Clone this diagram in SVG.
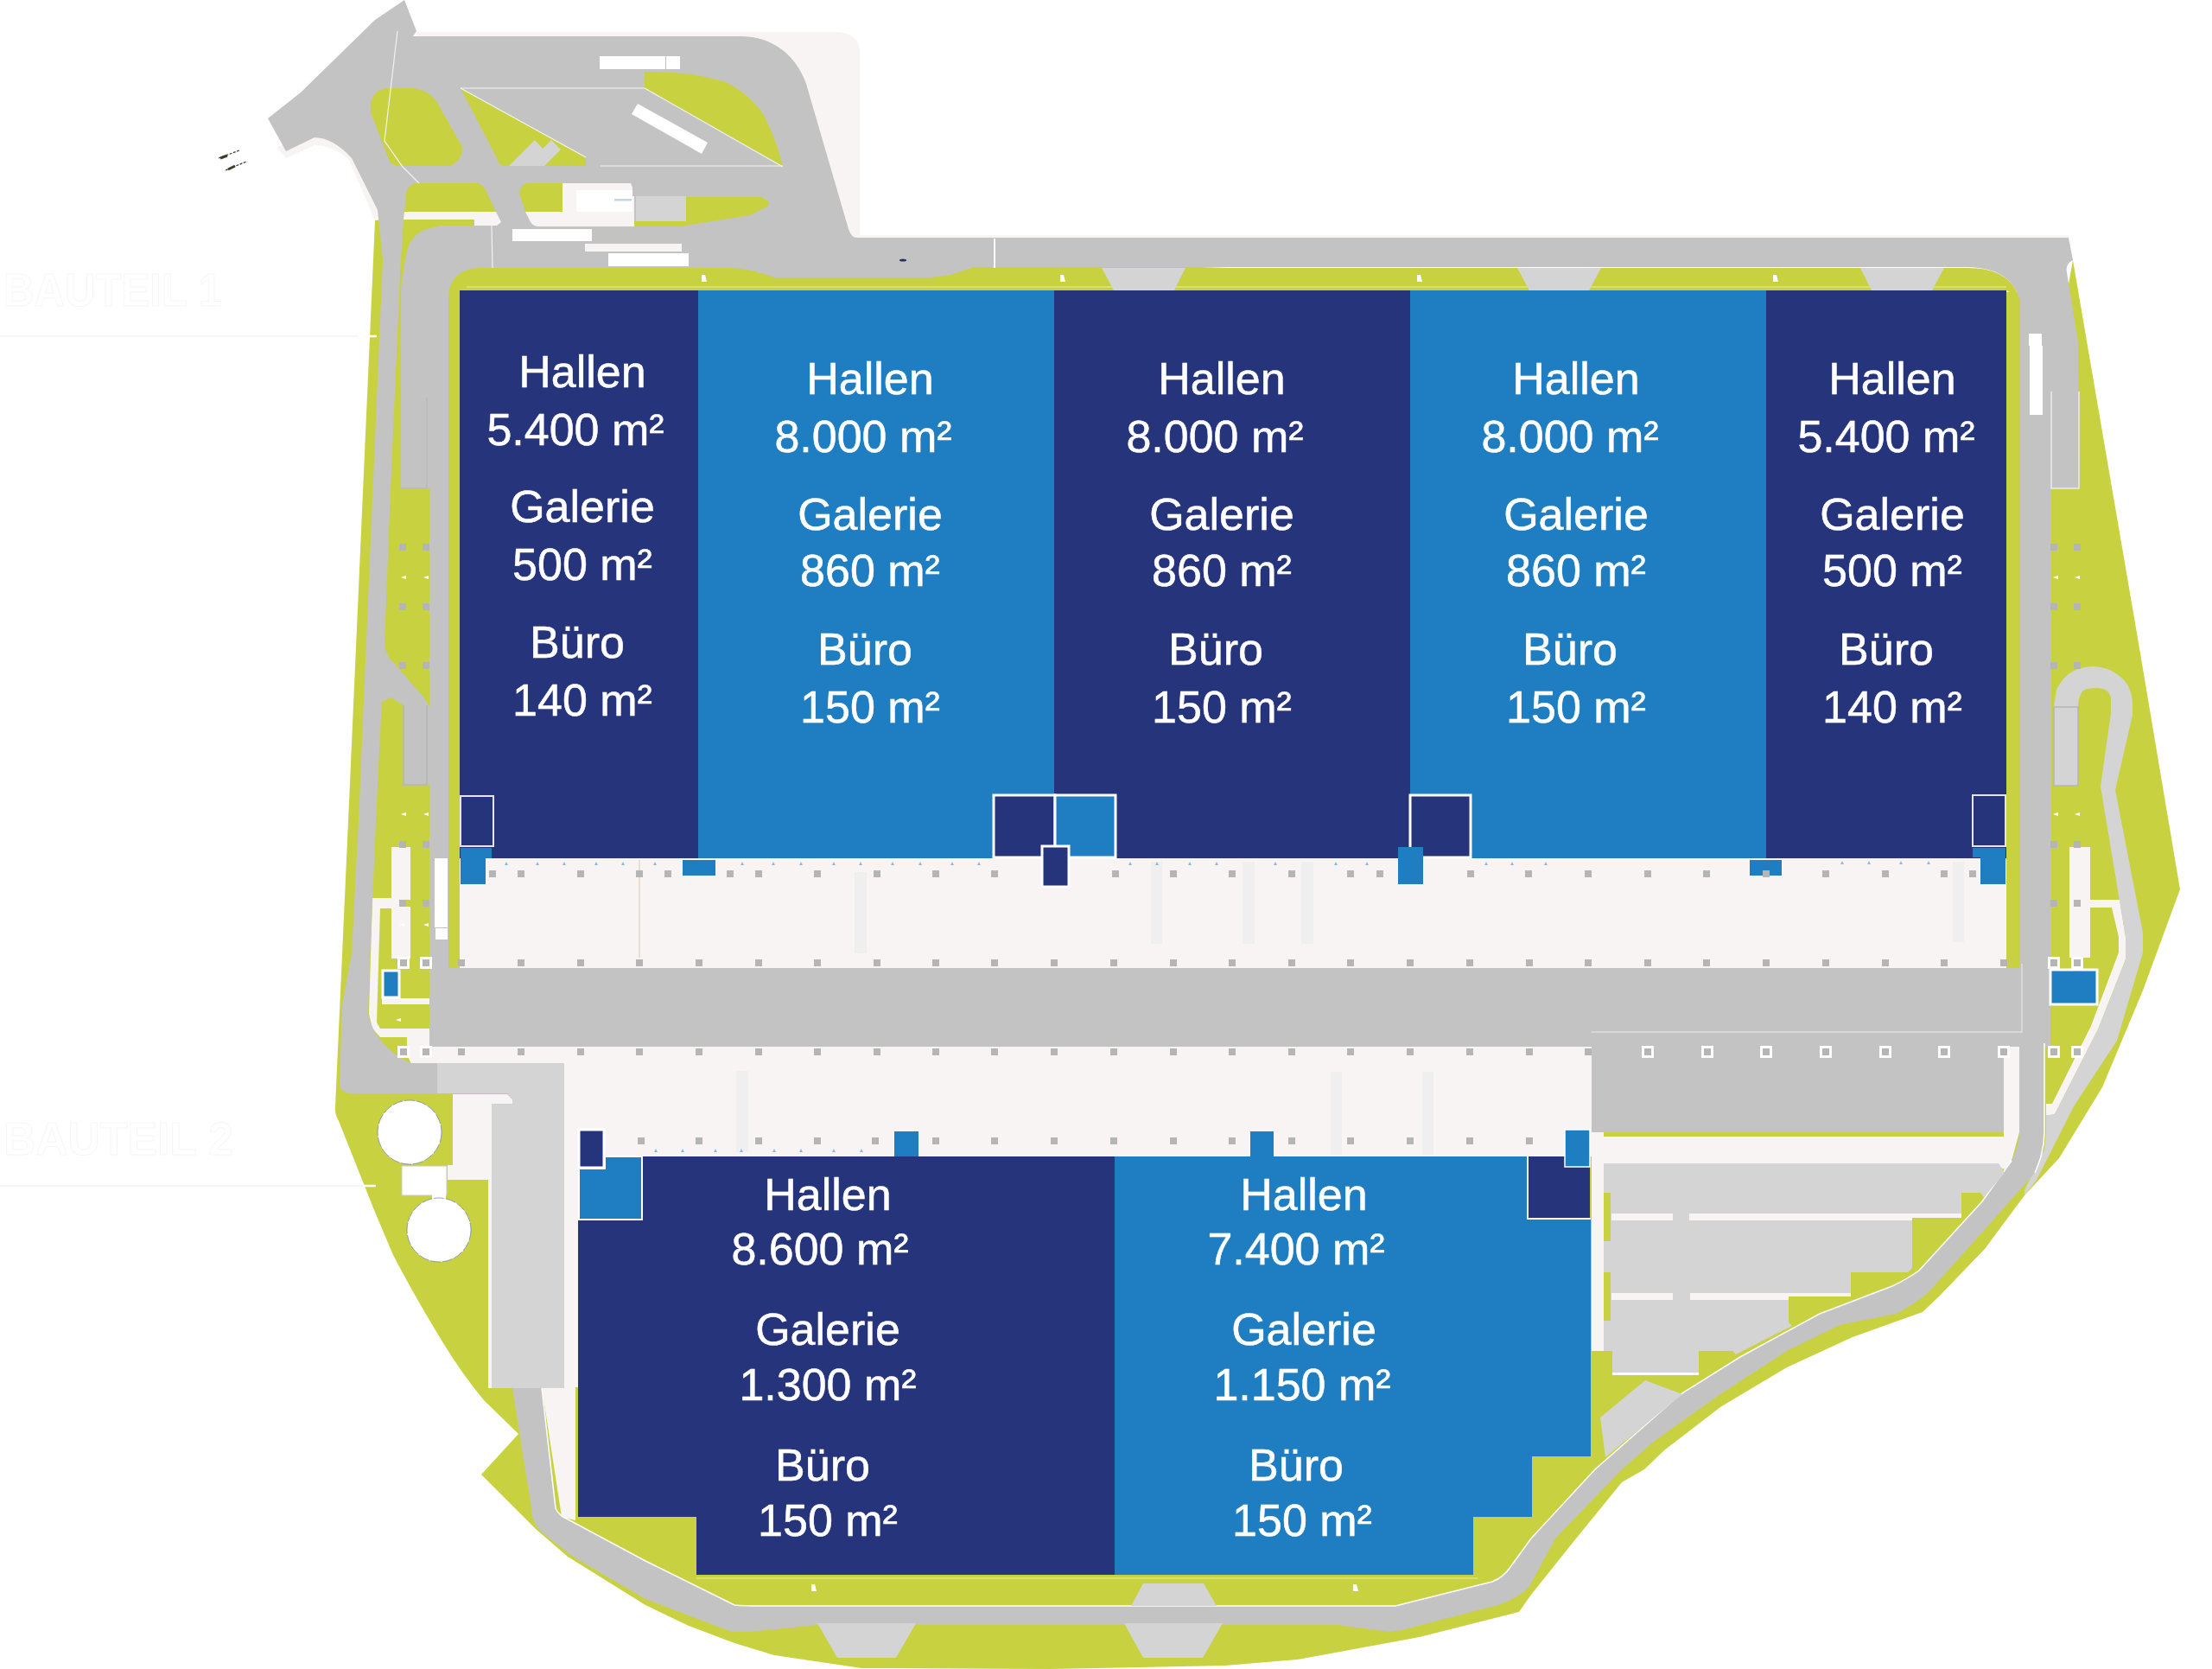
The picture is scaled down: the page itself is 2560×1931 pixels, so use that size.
<svg xmlns="http://www.w3.org/2000/svg" xmlns:xlink="http://www.w3.org/1999/xlink" width="2560" height="1931" viewBox="0 0 2560 1931">
<style>
.g{fill:#c8d240}.r{fill:#c3c3c3}.l{fill:#d4d4d4}.p{fill:#f8f4f3}.w{fill:#fff}
.d{fill:#26347c}.b{fill:#1f7ec1}
.bx{stroke:#fff;stroke-width:3}
.bs{stroke:#e4e4ea;stroke-width:2}
.st{fill:#efefef}
.t{font-family:"Liberation Sans",Arial,sans-serif;font-size:52px;fill:#fff;stroke:#fff;stroke-width:.5;text-anchor:middle}
.h{font-family:"Liberation Sans",Arial,sans-serif;font-size:54px;font-weight:bold;fill:#fff;stroke:#f6f6f6;stroke-width:1}
</style>
<defs>
<rect id="s" x="-4" y="-4" width="8" height="8" fill="#b5b5b5"/>
<g id="wb"><rect x="-7" y="-7" width="14" height="14" fill="#fff"/><rect x="-4" y="-4" width="8" height="8" fill="#b5b5b5"/></g>
<path id="a" d="M0,-2L2,2H-2Z" fill="#8cbbe2"/>
<path id="wa" d="M-3,0L3,-2V2Z" fill="#fff"/>
<path id="wt" d="M-2,-4H2L4,4H-2Z" fill="#fff"/>
</defs>
<rect width="2560" height="1931" fill="#fff"/>
<g id="labels-bauteil">
<text class="h" x="4" y="354" textLength="253" lengthAdjust="spacingAndGlyphs">BAUTEIL 1</text>
<text class="h" x="4" y="1336" textLength="266" lengthAdjust="spacingAndGlyphs">BAUTEIL 2</text>
<path d="M0,389H430M0,1372H435" stroke="#f3f3f3" stroke-width="1.5" fill="none"/>
</g>
<g id="site-green">
<path class="g" d="M434,255L403,950L388,1280Q387,1288 392,1297L433,1400L455,1452Q480,1500 513,1554Q535,1590 560,1620L600,1659L557,1706L620,1769L657,1801L747,1857L797,1881L850,1901L896,1915L997,1930L1215,1931L1418,1927L1502,1920L1643,1894L1758,1865L1772,1845L1824,1780L1877,1715L1903,1700L1926,1678L1991,1628L2068,1582L2144,1547L2225,1518L2244,1500L2297,1445L2343,1383L2383,1340L2433,1258L2480,1146L2523,1029L2476,750L2399,301L2392,340L1100,300L532,300L470,250Z"/>
</g>
<g id="pink-areas">
<path class="p" d="M483,37H971Q995,40 995,60V272H2394V278H970L900,100L840,44H483Z"/>
<path class="p" d="M331,183L364,168Q385,168 404,185L429,243L432,253H445L445,200L380,150L320,170Z"/>
<rect class="p" x="532" y="993" width="1790" height="127"/>
<path class="p" d="M497,1190H653V1211H1842V1338H669V1605L666,1605V1759L650,1755L627,1605L653,1605V1231H476L471,1220V1200H440L431,1190L427,1173L431,1039H464V1051H440L436,1183L440,1190Z"/>
<path class="p" d="M524,1266H587L593,1272V1277H569V1606H565V1365H518V1348H524Z"/>
<path class="p" d="M2319,1207H2337V1310L2328,1343L2320,1353L2313,1350V1346H1842V1315H2319Z"/>
<rect class="p" x="1842" y="1310" width="14" height="253"/>
<rect class="p" x="453" y="980" width="22" height="61"/>
<rect class="p" x="453" y="1049" width="22" height="60"/>
<rect class="p" x="442" y="1155" width="55" height="7"/>
<rect class="p" x="2395" y="980" width="24" height="128"/>
<path class="p" d="M2418,1041H2453L2460,1084V1110L2428,1191L2378,1289L2373,1290H2368V1277H2375L2420,1187L2452,1102V1084L2444,1050H2418Z"/>
</g>
<g id="roads">
<path class="l" d="M2377,818L2380,798Q2388,782 2400,776Q2412,771 2423,771Q2440,772 2450,780Q2468,792 2468,815V827L2448,914L2480,1079V1102L2450,1204L2400,1280L2357,1365L2343,1383L2343,1377L2366,1330L2368,1310L2368,1290H2373L2378,1289L2428,1191L2460,1110V1084L2431,910L2443,825V807Q2440,796 2427,796Q2413,796 2410,800Q2405,806 2405,818V909H2377Z"/>
<path class="r" d="M468,0L482,36L478,42H857C895,42 922,65 933,97L982,265Q985,275 992,275H2394L2399,301Q2390,305 2392,315L2405,397L2406,565H2374V1120H2373V1207H2338V350Q2330,310 2277,309H1127L1100,318Q1090,321 1079,321H895Q870,311 846,311H553Q519,313 519,345V1120H497V565L464,565L464,300L443,300Z"/>
<path class="r" d="M468,0L434,23L348,107L310,137L331,175L364,159Q385,159 407,183L437,243L443,300L415,950L407,1103L396,1163L393,1253Q393,1265 407,1265H506V1230H476C450,1220 430,1195 426,1173L428,1113L435,950L445,748L464,300L480,100Z"/>
<path class="r" d="M445,748L450,760L490,806L497,818V908H467V816L453,807L441,812Z"/>
<rect class="r" x="497" y="1120" width="1876" height="91"/>
<rect class="r" x="1842" y="1194" width="477" height="116"/>
<rect class="r" x="2319" y="1194" width="54" height="13"/>
<path class="r" d="M2337,1207H2366V1310C2366,1330 2360,1345 2355,1357L2317,1400L2232,1495Q2215,1510 2194,1520L2129,1533L2068,1563L1991,1613L1915,1667L1877,1700L1800,1780L1769,1837Q1755,1850 1734,1857L1622,1886L1608,1888L1548,1880H946L868,1888H847L747,1850L663,1801L625,1771Q615,1760 615,1745L593,1606H627L643,1745Q645,1750 650,1754L747,1806L850,1857Q860,1858 880,1858H1615L1727,1830Q1740,1825 1748,1813L1772,1780L1846,1700L1945,1613L2014,1570L2106,1520L2190,1488Q2207,1480 2221,1470L2294,1390L2328,1343Q2337,1325 2337,1310Z"/>
<path d="M2366,1207V1310C2366,1330 2360,1345 2355,1357M627,1606L643,1745Q645,1750 650,1754L747,1806L850,1857Q860,1858 880,1858H1615L1727,1830Q1740,1825 1748,1813L1772,1780L1846,1700L1945,1613L2014,1570L2106,1520L2190,1488Q2207,1480 2221,1470L2294,1390L2328,1343" fill="none" stroke="#fff" stroke-width="1.5"/>
<path d="M1151,276V310" stroke="#fff" stroke-width="2"/>
<path d="M2340,1115V1194H1842" stroke="#e0e0e0" stroke-width="1.5" fill="none"/>
</g>
<g id="green-islands">
<path class="g" d="M467,254H548V261H510L488,267Q475,275 471,290L469,300L463,341L464,565H497V806H490L450,760L445,748L452,565L464,300Z"/>
<path class="g" d="M429,117Q435,102 450,102H478Q495,104 505,117L535,170Q535,186 521,192H464Q453,191 451,187L429,130Z"/>
<path class="g" d="M533,102L678,182V192H583Q576,190 575,183Z"/>
<path class="g" d="M746,83Q770,83 792,85Q830,90 846,98Q870,112 884,133Q900,165 906,193L746,102Z"/>
<path class="g" d="M470,223Q473,212 483,212H553Q560,214 562,220L574,245H468Z"/>
<path class="g" d="M610,212Q600,215 602,227L608,245H651V212Z"/>
<path class="p" d="M651,212H730L732,217V227H734V262H624Q617,262 614,257L608,245H651Z"/>
<path class="p" d="M468,245H574L580,257L575,261H549V254H467Z"/>
<path class="g" d="M734,256H794V228H881L890,233V238L868,249L787,262H734Z"/>
<path class="l" d="M589,192L619,162L628,172L638,162L649,173L630,192Z"/>
<rect class="l" x="736" y="227" width="58" height="29"/>
<rect class="w" x="667" y="220" width="65" height="25"/>
<rect x="711" y="230" width="20" height="2.5" fill="#c7d4e4"/>
<path d="M533,102H746M695,192H906" stroke="#e4e4e4" stroke-width="1.5" fill="none"/>
<path d="M533,102L678,182M746,102L906,193M460,36L445,163L466,193L485,212M569,261L570,310" stroke="#f2f2f2" stroke-width="1.2" fill="none"/>
<rect class="w" x="694" y="65" width="76" height="15"/>
<rect class="w" x="771" y="65" width="16" height="15"/>
<path class="w" d="M738,120L731,132L812,178L819,165Z"/>
<rect class="w" x="593" y="265" width="92" height="14"/>
<rect class="p" x="677" y="282" width="112" height="9"/>
<rect class="w" x="704" y="293" width="93" height="15"/>
<rect class="w" x="503" y="993" width="15" height="80"/>
<rect class="w" x="504" y="1074" width="14" height="13"/>
<rect class="w" x="2348" y="386" width="15" height="14"/>
<rect class="w" x="2349" y="400" width="15" height="80"/>
<ellipse cx="1045" cy="301" rx="4" ry="1.5" fill="#2b3350"/>
<path class="g" d="M519,1120V1103Q521,1112 532,1115V1120Z"/>
<path class="g" d="M2322,1113Q2332,1112 2337,1097V1120H2322Z"/>
<rect class="g" x="519" y="345" width="13" height="768"/>
<rect class="g" x="2322" y="345" width="16" height="760"/>
<path class="g" d="M532,332L521,345Q519,313 553,310H846Q870,311 895,321H1079L1100,318L1127,310H2277Q2330,310 2338,350V345L2322,336H532Z"/>
<path d="M540,332H2322M806,1826H1710" stroke="#dfe380" stroke-width="1.5" fill="none"/>
</g>
<g id="parking">
<path class="l" d="M1856,1346H2313L2320,1357L2296,1385L2292,1380H2270V1409H2213V1467L2208,1472H2142V1500H2070V1530L2074,1534L2009,1567L2005,1563H1966V1590H1866V1563H1856Z"/>
<path class="l" d="M1904,1597L1947,1613L1858,1686L1852,1640Z"/>
<rect class="g" x="1856" y="1380" width="8" height="56"/>
<rect class="g" x="1856" y="1472" width="8" height="56"/>
<rect class="p" x="1865" y="1404" width="71" height="8"/>
<rect class="p" x="1955" y="1404" width="315" height="5"/><rect class="p" x="1955" y="1409" width="258" height="3"/>
<rect class="p" x="1865" y="1496" width="71" height="8"/>
<rect class="p" x="1956" y="1496" width="186" height="4"/><rect class="p" x="1956" y="1500" width="114" height="4"/>
<rect class="w" x="1866" y="1588" width="100" height="3"/>
<rect class="g" x="1856" y="1310" width="463" height="5"/>
<path class="l" d="M1275,310H1372L1359,336H1289Z"/>
<path class="l" d="M1756,310H1853L1839,336H1770Z"/>
<path class="l" d="M2153,310H2250L2236,336H2166Z"/>
<path class="l" d="M946,1878H1060L1037,1918H969Z"/>
<path class="l" d="M1301,1878H1415L1392,1918H1323Z"/>
<path class="l" d="M1323,1832H1393L1408,1858H1309Z"/>
<path class="l" d="M506,1230H653V1606H569V1277H593V1272L587,1265H506Z"/>
<path d="M2374,453V565H2406V453" fill="none" stroke="#ececec" stroke-width="1.5"/>
<path d="M494,460V565H464" fill="none" stroke="#b8b8b8" stroke-width="1.2"/>
<path d="M467,816V908H494V816" fill="none" stroke="#b5b5b5" stroke-width="1.5"/>
<rect class="l" x="2377" y="818" width="28" height="91" stroke="#b5b5b5" stroke-width="1.5"/>
</g>
<g id="stripes">
<rect class="st" x="989" y="1009" width="14" height="94"/>
<rect class="st" x="1332" y="997" width="13" height="95"/>
<rect class="st" x="1438" y="997" width="14" height="95"/>
<rect class="st" x="1506" y="997" width="14" height="95"/>
<rect class="st" x="2260" y="997" width="13" height="93"/>
<rect class="st" x="852" y="1239" width="14" height="94"/>
<rect class="st" x="1540" y="1240" width="13" height="96"/>
<rect class="st" x="1646" y="1240" width="13" height="96"/>
<path d="M740,995V1108" stroke="#cfcfa8" stroke-width="1"/>
</g>
<g id="halls">
<g id="hall-1"><rect class="d" x="532" y="336" width="277" height="657"/></g>
<g id="hall-2"><rect class="b" x="808" y="336" width="413" height="657"/></g>
<g id="hall-3"><rect class="d" x="1220" y="336" width="413" height="657"/></g>
<g id="hall-4"><rect class="b" x="1632" y="336" width="413" height="657"/></g>
<g id="hall-5"><rect class="d" x="2044" y="336" width="278" height="657"/></g>
<g id="hall-6"><path class="d" d="M744,1338H1290V1822H806V1755H669V1412H744Z"/></g>
<g id="hall-7"><path class="b" d="M1290,1338H1768V1410H1841V1685H1773V1755H1705V1822H1290Z"/></g>
<g id="rooms">
<rect class="d bs" x="533" y="921" width="38" height="58"/>
<path class="b" d="M533,981H569V993H562V1023H533Z"/>
<rect class="b" x="790" y="995" width="38" height="18"/>
<rect class="d bx" x="1150" y="920" width="71" height="72"/>
<rect class="b bx" x="1221" y="920" width="70" height="72"/>
<rect class="d bx" x="1206" y="979" width="31" height="47" stroke-width="2"/>
<rect class="d bx" x="1632" y="920" width="70" height="72"/>
<rect class="b" x="1618" y="980" width="29" height="43"/>
<rect class="b" x="2025" y="995" width="37" height="18"/>
<rect class="d bs" x="2283" y="920" width="38" height="59"/>
<path class="b" d="M2283,981H2321V1023H2292V992H2283Z"/>
<path class="b" stroke="#fff" stroke-width="2" d="M670,1352H700V1338H743V1411H670Z"/>
<rect class="d bx" x="670" y="1307" width="29" height="44"/>
<rect class="d" x="1768" y="1338" width="72" height="71"/>
<path d="M1768,1338V1410H1841" fill="none" stroke="#fff" stroke-width="2"/>
<rect class="b" x="1811" y="1307" width="29" height="43" stroke="#fff" stroke-width="1.5"/>
<rect class="b" x="1035" y="1309" width="28" height="29"/>
<rect class="b" x="1447" y="1309" width="27" height="29"/>
<rect class="b bx" x="2373" y="1122" width="54" height="40"/>
<rect class="b bx" x="443" y="1123" width="19" height="31"/>
</g>
</g>
<g id="tanks">
<rect class="w" x="465" y="1349" width="52" height="34" stroke="#c9c9c9" stroke-width="1"/>
<rect class="w" x="500" y="1380" width="16" height="8"/>
<ellipse class="w" cx="474" cy="1310" rx="37" ry="37" stroke="#6d7ab2" stroke-width=".7" stroke-dasharray="12 2"/>
<ellipse class="w" cx="508" cy="1423" rx="37" ry="37" stroke="#6d7ab2" stroke-width=".7" stroke-dasharray="12 2"/>
</g>
<g id="marks">
<use href="#s" x="570" y="1011"/><use href="#s" x="603" y="1011"/><use href="#s" x="672" y="1011"/><use href="#s" x="740" y="1011"/><use href="#s" x="773" y="1011"/><use href="#s" x="845" y="1011"/><use href="#s" x="878" y="1011"/><use href="#s" x="946" y="1011"/><use href="#s" x="1015" y="1011"/><use href="#s" x="1083" y="1011"/><use href="#s" x="1151" y="1011"/><use href="#s" x="1291" y="1011"/><use href="#s" x="1358" y="1011"/><use href="#s" x="1426" y="1011"/><use href="#s" x="1495" y="1011"/><use href="#s" x="1563" y="1011"/><use href="#s" x="1597" y="1011"/><use href="#s" x="1702" y="1011"/><use href="#s" x="1769" y="1011"/><use href="#s" x="1838" y="1011"/><use href="#s" x="1907" y="1011"/><use href="#s" x="1975" y="1011"/><use href="#s" x="2044" y="1011"/><use href="#s" x="2113" y="1011"/><use href="#s" x="2182" y="1011"/><use href="#s" x="2250" y="1011"/><use href="#s" x="2283" y="1011"/>
<use href="#s" x="534" y="1114"/><use href="#s" x="603" y="1114"/><use href="#s" x="672" y="1114"/><use href="#s" x="740" y="1114"/><use href="#s" x="809" y="1114"/><use href="#s" x="878" y="1114"/><use href="#s" x="946" y="1114"/><use href="#s" x="1015" y="1114"/><use href="#s" x="1083" y="1114"/><use href="#s" x="1151" y="1114"/><use href="#s" x="1220" y="1114"/><use href="#s" x="1289" y="1114"/><use href="#s" x="1358" y="1114"/><use href="#s" x="1426" y="1114"/><use href="#s" x="1495" y="1114"/><use href="#s" x="1563" y="1114"/><use href="#s" x="1632" y="1114"/><use href="#s" x="1701" y="1114"/><use href="#s" x="1770" y="1114"/><use href="#s" x="1838" y="1114"/><use href="#s" x="1907" y="1114"/><use href="#s" x="1975" y="1114"/><use href="#s" x="2044" y="1114"/><use href="#s" x="2113" y="1114"/><use href="#s" x="2182" y="1114"/><use href="#s" x="2250" y="1114"/><use href="#s" x="2319" y="1114"/>
<use href="#s" x="534" y="1217"/><use href="#s" x="603" y="1217"/><use href="#s" x="672" y="1217"/><use href="#s" x="740" y="1217"/><use href="#s" x="809" y="1217"/><use href="#s" x="878" y="1217"/><use href="#s" x="946" y="1217"/><use href="#s" x="1015" y="1217"/><use href="#s" x="1083" y="1217"/><use href="#s" x="1151" y="1217"/><use href="#s" x="1220" y="1217"/><use href="#s" x="1289" y="1217"/><use href="#s" x="1358" y="1217"/><use href="#s" x="1426" y="1217"/><use href="#s" x="1495" y="1217"/><use href="#s" x="1563" y="1217"/><use href="#s" x="1632" y="1217"/><use href="#s" x="1701" y="1217"/><use href="#s" x="1770" y="1217"/><use href="#s" x="1838" y="1217"/>
<use href="#wb" x="1907" y="1217"/><use href="#wb" x="1976" y="1217"/><use href="#wb" x="2044" y="1217"/><use href="#wb" x="2113" y="1217"/><use href="#wb" x="2182" y="1217"/><use href="#wb" x="2250" y="1217"/><use href="#wb" x="2319" y="1217"/><use href="#wb" x="2377" y="1217"/><use href="#wb" x="2404" y="1217"/><use href="#wb" x="467" y="1217"/><use href="#wb" x="493" y="1217"/><use href="#wb" x="467" y="1114"/><use href="#wb" x="493" y="1114"/><use href="#wb" x="2377" y="1114"/><use href="#wb" x="2404" y="1114"/>
<use href="#s" x="742" y="1320"/><use href="#s" x="809" y="1320"/><use href="#s" x="878" y="1320"/><use href="#s" x="946" y="1320"/><use href="#s" x="1013" y="1320"/><use href="#s" x="1083" y="1320"/><use href="#s" x="1151" y="1320"/><use href="#s" x="1220" y="1320"/><use href="#s" x="1289" y="1320"/><use href="#s" x="1358" y="1320"/><use href="#s" x="1426" y="1320"/><use href="#s" x="1495" y="1320"/><use href="#s" x="1563" y="1320"/><use href="#s" x="1632" y="1320"/><use href="#s" x="1701" y="1320"/><use href="#s" x="1770" y="1320"/>
<use href="#s" x="466" y="633"/><use href="#s" x="493" y="633"/><use href="#s" x="466" y="702"/><use href="#s" x="493" y="702"/><use href="#s" x="466" y="770"/><use href="#s" x="493" y="770"/><use href="#s" x="466" y="977"/><use href="#s" x="493" y="977"/><use href="#s" x="466" y="1045"/><use href="#s" x="493" y="1045"/>
<use href="#s" x="2377" y="633"/><use href="#s" x="2404" y="633"/><use href="#s" x="2377" y="702"/><use href="#s" x="2404" y="702"/><use href="#s" x="2377" y="770"/><use href="#s" x="2404" y="770"/><use href="#s" x="2377" y="977"/><use href="#s" x="2404" y="977"/><use href="#s" x="2377" y="1045"/><use href="#s" x="2404" y="1045"/>
<use href="#wa" x="467" y="668"/><use href="#wa" x="2379" y="668"/><use href="#wa" x="467" y="942"/><use href="#wa" x="2379" y="942"/><use href="#wa" x="465" y="1070"/><use href="#wa" x="461" y="1180"/><use href="#wa" x="2404" y="942"/><use href="#wa" x="493" y="668"/><use href="#wa" x="493" y="942"/><use href="#wa" x="493" y="1070"/><use href="#wa" x="2404" y="668"/>
<use href="#a" x="586" y="999"/><use href="#a" x="622" y="999"/><use href="#a" x="653" y="999"/><use href="#a" x="690" y="999"/><use href="#a" x="721" y="999"/><use href="#a" x="758" y="999"/><use href="#a" x="859" y="999"/><use href="#a" x="895" y="999"/><use href="#a" x="927" y="999"/><use href="#a" x="965" y="999"/><use href="#a" x="996" y="999"/><use href="#a" x="1033" y="999"/><use href="#a" x="1065" y="999"/><use href="#a" x="1102" y="999"/><use href="#a" x="1133" y="999"/><use href="#a" x="1308" y="999"/><use href="#a" x="1339" y="999"/><use href="#a" x="1377" y="999"/><use href="#a" x="1408" y="999"/><use href="#a" x="1476" y="999"/><use href="#a" x="1546" y="999"/><use href="#a" x="1582" y="999"/><use href="#a" x="1720" y="999"/><use href="#a" x="1750" y="999"/><use href="#a" x="1789" y="999"/><use href="#a" x="2132" y="998"/><use href="#a" x="2163" y="998"/><use href="#a" x="2200" y="998"/><use href="#a" x="2232" y="998"/><use href="#a" x="759" y="1331"/><use href="#a" x="790" y="1331"/><use href="#a" x="828" y="1331"/><use href="#a" x="858" y="1331"/><use href="#a" x="896" y="1331"/><use href="#a" x="927" y="1331"/><use href="#a" x="965" y="1331"/><use href="#a" x="997" y="1331"/>
<use href="#wt" x="1229" y="322"/><use href="#wt" x="1642" y="322"/><use href="#wt" x="2054" y="322"/><use href="#wt" x="814" y="322"/><use href="#wt" x="941" y="1837"/><use href="#wt" x="1568" y="1837"/>
<path d="M415,389H436M420,1372H435" stroke="#fff" stroke-width="2.5"/>
<path d="M253,183L277,174M261,197L285,187" stroke="#3c3c2e" stroke-width="1.2" stroke-dasharray="3 1.5"/>
<path d="M255,183L263,180M264,196L272,192" stroke="#3c3c2e" stroke-width="3"/>
</g>
<g id="hall-labels">
<text class="t" x="674" y="448">Hallen</text><text class="t" x="666" y="515">5.400 m²</text><text class="t" x="674" y="604">Galerie</text><text class="t" x="674" y="671">500 m²</text><text class="t" x="668" y="761">Büro</text><text class="t" x="674" y="828">140 m²</text>
<text class="t" x="1007" y="456">Hallen</text><text class="t" x="999" y="523">8.000 m²</text><text class="t" x="1007" y="613">Galerie</text><text class="t" x="1007" y="678">860 m²</text><text class="t" x="1001" y="769">Büro</text><text class="t" x="1007" y="836">150 m²</text>
<text class="t" x="1414" y="456">Hallen</text><text class="t" x="1406" y="523">8.000 m²</text><text class="t" x="1414" y="613">Galerie</text><text class="t" x="1414" y="678">860 m²</text><text class="t" x="1407" y="769">Büro</text><text class="t" x="1414" y="836">150 m²</text>
<text class="t" x="1824" y="456">Hallen</text><text class="t" x="1817" y="523">8.000 m²</text><text class="t" x="1824" y="613">Galerie</text><text class="t" x="1824" y="678">860 m²</text><text class="t" x="1817" y="769">Büro</text><text class="t" x="1824" y="836">150 m²</text>
<text class="t" x="2190" y="456">Hallen</text><text class="t" x="2183" y="523">5.400 m²</text><text class="t" x="2190" y="613">Galerie</text><text class="t" x="2190" y="678">500 m²</text><text class="t" x="2183" y="769">Büro</text><text class="t" x="2190" y="836">140 m²</text>
<text class="t" x="958" y="1400">Hallen</text><text class="t" x="949" y="1463">8.600 m²</text><text class="t" x="958" y="1556">Galerie</text><text class="t" x="958" y="1620">1.300 m²</text><text class="t" x="952" y="1713">Büro</text><text class="t" x="958" y="1777">150 m²</text>
<text class="t" x="1509" y="1400">Hallen</text><text class="t" x="1500" y="1463">7.400 m²</text><text class="t" x="1509" y="1556">Galerie</text><text class="t" x="1507" y="1620">1.150 m²</text><text class="t" x="1500" y="1713">Büro</text><text class="t" x="1507" y="1777">150 m²</text>
</g>
</svg>
